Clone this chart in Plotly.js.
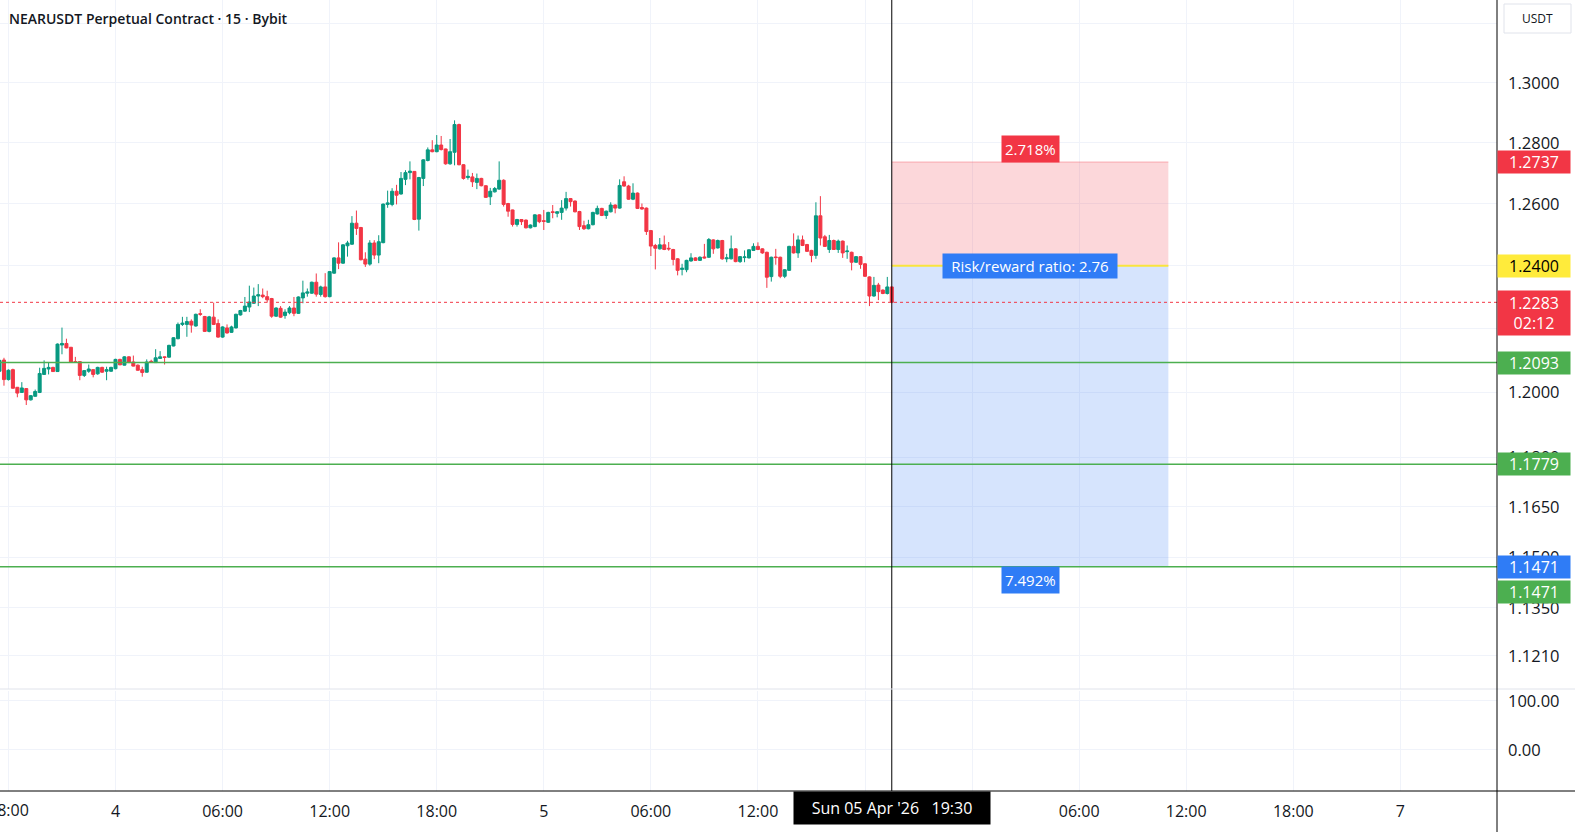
<!DOCTYPE html>
<html>
<head>
<meta charset="utf-8">
<script src="https://cdn.plot.ly/plotly-3.0.1.min.js"></script>
<style>html,body{margin:0;padding:0;background:#fff;}#chart{width:1575px;height:832px;}</style>
</head>
<body>
<div id="chart"></div>
<script>
// ---- DATA (NEARUSDT 15m, Bybit) ----
const startTime = '2026-04-03T17:30:00Z';
const barMinutes = 15;
const open = [
1.2066,1.2101,1.2040,1.2071,1.2016,1.2000,1.2012,1.1977,1.1988,1.2000,
1.2056,1.2073,1.2078,1.2065,1.2148,1.2153,1.2141,1.2096,1.2096,1.2053,
1.2066,1.2071,1.2058,1.2078,1.2066,1.2066,1.2074,1.2103,1.2085,1.2111,
1.2095,1.2085,1.2071,1.2063,1.2097,1.2093,1.2106,1.2111,1.2110,1.2145,
1.2168,1.2213,1.2213,1.2223,1.2208,1.2247,1.2238,1.2191,1.2236,1.2216,
1.2173,1.2202,1.2188,1.2202,1.2243,1.2255,1.2268,1.2280,1.2303,1.2306,
1.2301,1.2295,1.2239,1.2264,1.2241,1.2250,1.2265,1.2248,1.2297,1.2312,
1.2312,1.2347,1.2308,1.2332,1.2301,1.2376,1.2425,1.2408,1.2464,1.2469,
1.2537,1.2523,1.2421,1.2405,1.2473,1.2434,1.2474,1.2598,1.2598,1.2641,
1.2632,1.2680,1.2702,1.2706,1.2550,1.2683,1.2742,1.2777,1.2771,1.2793,
1.2780,1.2731,1.2769,1.2861,1.2728,1.2686,1.2688,1.2670,1.2683,1.2659,
1.2623,1.2639,1.2648,1.2677,1.2601,1.2580,1.2533,1.2549,1.2547,1.2522,
1.2526,1.2564,1.2545,1.2540,1.2574,1.2569,1.2572,1.2586,1.2617,1.2609,
1.2575,1.2529,1.2519,1.2532,1.2567,1.2585,1.2562,1.2574,1.2596,1.2586,
1.2672,1.2658,1.2615,1.2635,1.2588,1.2586,1.2513,1.2465,1.2454,1.2467,
1.2456,1.2452,1.2422,1.2388,1.2387,1.2415,1.2425,1.2417,1.2428,1.2427,
1.2483,1.2457,1.2481,1.2422,1.2422,1.2454,1.2413,1.2426,1.2425,1.2449,
1.2462,1.2454,1.2443,1.2365,1.2428,1.2427,1.2366,1.2385,1.2462,1.2441,
1.2483,1.2468,1.2449,1.2433,1.2561,1.2493,1.2452,1.2481,1.2452,1.2479,
1.2445,1.2443,1.2411,1.2429,1.2406,1.2364,1.2303,1.2338,1.2322,1.2311,
1.2332];
const high = [
1.2102,1.2108,1.2072,1.2074,1.2017,1.2032,1.2013,1.1992,1.2009,1.2077,
1.2100,1.2093,1.2080,1.2153,1.2203,1.2168,1.2142,1.2111,1.2097,1.2069,
1.2087,1.2072,1.2080,1.2080,1.2080,1.2080,1.2105,1.2105,1.2113,1.2113,
1.2115,1.2087,1.2080,1.2103,1.2102,1.2135,1.2129,1.2112,1.2149,1.2173,
1.2219,1.2237,1.2237,1.2229,1.2247,1.2261,1.2240,1.2240,1.2282,1.2229,
1.2207,1.2213,1.2209,1.2247,1.2259,1.2300,1.2336,1.2330,1.2341,1.2327,
1.2320,1.2297,1.2267,1.2271,1.2261,1.2271,1.2300,1.2302,1.2352,1.2327,
1.2349,1.2375,1.2336,1.2376,1.2383,1.2427,1.2475,1.2469,1.2480,1.2560,
1.2578,1.2525,1.2443,1.2482,1.2482,1.2498,1.2601,1.2643,1.2651,1.2662,
1.2704,1.2710,1.2739,1.2707,1.2688,1.2746,1.2785,1.2809,1.2826,1.2823,
1.2781,1.2813,1.2875,1.2864,1.2730,1.2712,1.2701,1.2699,1.2685,1.2661,
1.2652,1.2655,1.2739,1.2680,1.2603,1.2581,1.2551,1.2550,1.2549,1.2533,
1.2566,1.2566,1.2580,1.2574,1.2596,1.2576,1.2612,1.2639,1.2619,1.2611,
1.2577,1.2545,1.2548,1.2574,1.2594,1.2587,1.2578,1.2605,1.2598,1.2680,
1.2690,1.2662,1.2667,1.2637,1.2601,1.2588,1.2515,1.2470,1.2489,1.2497,
1.2476,1.2454,1.2424,1.2406,1.2419,1.2440,1.2427,1.2430,1.2470,1.2489,
1.2485,1.2484,1.2483,1.2438,1.2497,1.2456,1.2431,1.2449,1.2453,1.2472,
1.2475,1.2456,1.2445,1.2429,1.2454,1.2429,1.2389,1.2464,1.2504,1.2497,
1.2497,1.2470,1.2451,1.2605,1.2625,1.2499,1.2499,1.2484,1.2484,1.2481,
1.2465,1.2445,1.2431,1.2431,1.2408,1.2366,1.2364,1.2345,1.2324,1.2364,
1.2333];
const low = [
1.2064,1.2021,1.2037,1.2012,1.1985,1.1999,1.1961,1.1975,1.1987,1.1998,
1.2055,1.2056,1.2064,1.2064,1.2119,1.2138,1.2094,1.2093,1.2038,1.2048,
1.2061,1.2047,1.2055,1.2061,1.2038,1.2064,1.2072,1.2085,1.2084,1.2092,
1.2081,1.2068,1.2049,1.2062,1.2093,1.2092,1.2105,1.2087,1.2108,1.2144,
1.2166,1.2208,1.2174,1.2187,1.2206,1.2240,1.2189,1.2188,1.2211,1.2171,
1.2171,1.2184,1.2186,1.2200,1.2241,1.2253,1.2252,1.2278,1.2271,1.2296,
1.2282,1.2234,1.2237,1.2234,1.2231,1.2245,1.2239,1.2246,1.2280,1.2301,
1.2310,1.2301,1.2301,1.2298,1.2299,1.2374,1.2389,1.2406,1.2429,1.2467,
1.2499,1.2417,1.2396,1.2400,1.2421,1.2408,1.2472,1.2587,1.2592,1.2598,
1.2630,1.2661,1.2680,1.2547,1.2513,1.2658,1.2739,1.2769,1.2769,1.2775,
1.2728,1.2728,1.2726,1.2726,1.2679,1.2679,1.2655,1.2648,1.2657,1.2619,
1.2596,1.2637,1.2646,1.2591,1.2558,1.2526,1.2526,1.2531,1.2520,1.2520,
1.2524,1.2537,1.2515,1.2538,1.2553,1.2556,1.2548,1.2578,1.2591,1.2572,
1.2515,1.2515,1.2517,1.2530,1.2565,1.2560,1.2551,1.2572,1.2569,1.2584,
1.2656,1.2613,1.2612,1.2583,1.2581,1.2499,1.2431,1.2388,1.2452,1.2450,
1.2448,1.2401,1.2369,1.2369,1.2379,1.2413,1.2415,1.2415,1.2423,1.2425,
1.2438,1.2455,1.2419,1.2411,1.2420,1.2411,1.2409,1.2411,1.2423,1.2447,
1.2450,1.2438,1.2329,1.2349,1.2403,1.2360,1.2360,1.2383,1.2439,1.2425,
1.2463,1.2444,1.2411,1.2422,1.2465,1.2460,1.2441,1.2460,1.2441,1.2425,
1.2422,1.2385,1.2409,1.2390,1.2364,1.2271,1.2301,1.2290,1.2309,1.2308,
1.2280];
const close = [
1.2100,1.2040,1.2069,1.2013,1.1998,1.2014,1.1977,1.1990,1.2003,1.2059,
1.2075,1.2078,1.2065,1.2151,1.2153,1.2139,1.2095,1.2094,1.2053,1.2068,
1.2073,1.2056,1.2078,1.2063,1.2071,1.2078,1.2103,1.2086,1.2111,1.2093,
1.2082,1.2069,1.2062,1.2095,1.2095,1.2108,1.2111,1.2109,1.2147,1.2171,
1.2213,1.2217,1.2222,1.2211,1.2245,1.2245,1.2191,1.2237,1.2213,1.2173,
1.2205,1.2186,1.2205,1.2245,1.2257,1.2271,1.2284,1.2303,1.2307,1.2301,
1.2291,1.2239,1.2265,1.2236,1.2252,1.2265,1.2248,1.2300,1.2313,1.2316,
1.2347,1.2309,1.2332,1.2301,1.2381,1.2425,1.2408,1.2467,1.2473,1.2537,
1.2520,1.2419,1.2405,1.2473,1.2434,1.2477,1.2599,1.2603,1.2641,1.2628,
1.2683,1.2702,1.2707,1.2549,1.2686,1.2744,1.2777,1.2771,1.2793,1.2778,
1.2731,1.2771,1.2861,1.2728,1.2683,1.2690,1.2672,1.2683,1.2659,1.2621,
1.2641,1.2650,1.2677,1.2598,1.2576,1.2533,1.2549,1.2542,1.2522,1.2531,
1.2564,1.2542,1.2543,1.2572,1.2572,1.2574,1.2586,1.2617,1.2607,1.2574,
1.2526,1.2519,1.2532,1.2572,1.2585,1.2562,1.2576,1.2596,1.2586,1.2660,
1.2658,1.2615,1.2635,1.2585,1.2583,1.2510,1.2463,1.2456,1.2467,1.2452,
1.2454,1.2420,1.2385,1.2392,1.2417,1.2425,1.2417,1.2427,1.2425,1.2484,
1.2454,1.2481,1.2422,1.2425,1.2454,1.2413,1.2429,1.2428,1.2451,1.2462,
1.2452,1.2441,1.2363,1.2427,1.2426,1.2366,1.2387,1.2462,1.2441,1.2483,
1.2465,1.2446,1.2433,1.2561,1.2489,1.2462,1.2481,1.2452,1.2479,1.2441,
1.2447,1.2411,1.2429,1.2404,1.2366,1.2303,1.2337,1.2317,1.2311,1.2332,
1.2283];

// Horizontal levels & position tool
const supportLevels = [1.2093, 1.1779, 1.1471];
const lastPrice = 1.2283;
const countdown = '02:12';
const entryPrice = 1.2400;
const stopPrice = 1.2737;
const targetPrice = 1.1471;
const positionStart = '2026-04-05 19:30';
const positionEnd = '2026-04-06 11:00';
const stopPct = '2.718%';
const targetPct = '7.492%';
const rrText = 'Risk/reward ratio: 2.76';
const crosshairTime = '2026-04-05 19:30';
const crosshairLabel = "Sun 05 Apr '26\u00a0\u00a0\u00a019:30";
const titleText = 'NEARUSDT Perpetual Contract · 15 · Bybit';

// Axis ticks
const priceTicks = [1.121, 1.135, 1.15, 1.165, 1.18, 1.20, 1.22, 1.24, 1.26, 1.28, 1.30, 1.32];
const timeTicks = ['2026-04-03 18:00','2026-04-04 00:00','2026-04-04 06:00','2026-04-04 12:00','2026-04-04 18:00',
  '2026-04-05 00:00','2026-04-05 06:00','2026-04-05 12:00','2026-04-05 18:00','2026-04-06 00:00',
  '2026-04-06 06:00','2026-04-06 12:00','2026-04-06 18:00','2026-04-07 00:00'];
const timeTickText = ['18:00','4','06:00','12:00','18:00','5','06:00','12:00','18:00','6','06:00','12:00','18:00','7'];
const indTicks = [0, 100];
const indTickText = ['0.00', '100.00'];

// ---- BUILD ----
const t0 = Date.parse(startTime);
const times = open.map((_, i) => new Date(t0 + i * barMinutes * 60000).toISOString().slice(0, 16).replace('T', ' '));

const FONT = 'Open Sans, Roboto, sans-serif';
const TXT = '#131722';
const GREEN = '#089981', RED = '#f23645', LVL = '#4caf50', BLUE = '#2f7cf6';
const L = v => Math.log10(v);

const PLOT_W = 1497, PLOT_H = 791;

const traces = [
  {
    type: 'candlestick', x: times, open: open, high: high, low: low, close: close,
    xaxis: 'x', yaxis: 'y',
    increasing: {line: {color: GREEN, width: 1}, fillcolor: GREEN},
    decreasing: {line: {color: RED, width: 1}, fillcolor: RED},
    whiskerwidth: 0, hoverinfo: 'skip', showlegend: false
  },
  {type: 'scatter', x: [], y: [], xaxis: 'x', yaxis: 'y2', showlegend: false, hoverinfo: 'skip'}
];

// Shapes on the log price axis take data values here
const shapes = [];
shapes.push({type: 'rect', xref: 'x', yref: 'y', x0: positionStart, x1: positionEnd, y0: entryPrice, y1: stopPrice,
  fillcolor: 'rgba(242,54,69,0.2)', line: {width: 0}, layer: 'between'});
shapes.push({type: 'rect', xref: 'x', yref: 'y', x0: positionStart, x1: positionEnd, y0: targetPrice, y1: entryPrice,
  fillcolor: 'rgba(49,121,245,0.2)', line: {width: 0}, layer: 'between'});
shapes.push({type: 'line', xref: 'x', yref: 'y', x0: positionStart, x1: positionEnd, y0: stopPrice, y1: stopPrice,
  line: {color: 'rgba(242,54,69,0.35)', width: 1}});
shapes.push({type: 'line', xref: 'x', yref: 'y', x0: positionStart, x1: positionEnd, y0: entryPrice, y1: entryPrice,
  line: {color: '#f9e43c', width: 2}});
supportLevels.forEach(v => shapes.push({type: 'line', xref: 'paper', yref: 'y', x0: 0, x1: 1, y0: v, y1: v,
  line: {color: LVL, width: 1.5}}));
shapes.push({type: 'line', xref: 'paper', yref: 'y', x0: 0, x1: 1, y0: lastPrice, y1: lastPrice,
  line: {color: RED, width: 1, dash: 'dot'}});
// crosshair
shapes.push({type: 'line', xref: 'x', yref: 'paper', x0: crosshairTime, x1: crosshairTime, y0: 0, y1: 1,
  line: {color: '#000', width: 1}});
// pane separator
shapes.push({type: 'line', xref: 'paper', yref: 'paper', x0: 0, x1: 1575 / PLOT_W, y0: 102 / PLOT_H, y1: 102 / PLOT_H,
  line: {color: '#e0e3eb', width: 1}});
// price axis line & time axis line
shapes.push({type: 'line', xref: 'paper', yref: 'paper', x0: 1, x1: 1, y0: -41 / PLOT_H, y1: 1, line: {color: '#000', width: 1}});
shapes.push({type: 'line', xref: 'paper', yref: 'paper', x0: 0, x1: 1575 / PLOT_W, y0: 0, y1: 0, line: {color: '#000', width: 1}});
// USDT button
shapes.push({type: 'rect', xref: 'paper', yref: 'paper', x0: 1504 / PLOT_W, x1: 1571 / PLOT_W,
  y0: (PLOT_H - 33) / PLOT_H, y1: (PLOT_H - 4) / PLOT_H, line: {color: '#e0e3eb', width: 1}, fillcolor: '#fff'});

const annotations = [];
annotations.push({xref: 'paper', yref: 'paper', x: 0, y: 1, xanchor: 'left', yanchor: 'middle', xshift: 7, yshift: -18,
  text: titleText, showarrow: false, font: {family: FONT, size: 14, color: TXT, weight: 600}});
annotations.push({xref: 'paper', yref: 'paper', x: 1537.5 / PLOT_W, y: 1, xanchor: 'center', yanchor: 'middle', yshift: -18.5,
  text: 'USDT', showarrow: false, font: {family: FONT, size: 12, color: TXT}});
// leftmost time label, partly outside the picture as in the reference
annotations.push({xref: 'x', x: timeTicks[0], yref: 'paper', y: -19 / PLOT_H, xanchor: 'center', yanchor: 'middle',
  text: timeTickText[0], showarrow: false, font: {family: FONT, size: 16, color: TXT}});

function priceLabel(v, bg, fg, yshift, text, h) {
  annotations.push({xref: 'paper', x: 1, xanchor: 'left', yref: 'y', y: L(v), yanchor: 'middle', yshift: yshift || 0,
    text: text || v.toFixed(4), showarrow: false, bgcolor: bg, borderpad: 0, width: 72, height: h || 22,
    font: {family: FONT, size: 16, color: fg}, align: 'center'});
}
priceLabel(stopPrice, RED, '#fff');
priceLabel(entryPrice, '#ffeb3b', '#000');
priceLabel(lastPrice, RED, '#fff', -11, lastPrice.toFixed(4) + '<br>' + countdown, 44);
priceLabel(supportLevels[0], LVL, '#fff');
priceLabel(supportLevels[1], LVL, '#fff');
priceLabel(supportLevels[2], LVL, '#fff', -25);
priceLabel(targetPrice, BLUE, '#fff');

const mid = new Date((Date.parse(positionStart.replace(' ', 'T') + ':00Z') + Date.parse(positionEnd.replace(' ', 'T') + ':00Z')) / 2)
  .toISOString().slice(0, 16).replace('T', ' ');
function boxLabel(v, bg, text, yshift, w, h) {
  const a = {xref: 'x', x: mid, yref: 'y', y: L(v), xanchor: 'center', yanchor: 'middle', yshift: yshift,
    text: text, showarrow: false, bgcolor: bg, borderpad: 3, font: {family: FONT, size: 15, color: '#fff'}};
  if (w) { a.width = w; a.height = h; a.borderpad = 0; }
  annotations.push(a);
}
boxLabel(stopPrice, RED, stopPct, 13);
boxLabel(entryPrice, BLUE, rrText, 0, 174, 24);
boxLabel(targetPrice, BLUE, targetPct, -13);

annotations.push({xref: 'x', x: crosshairTime, yref: 'paper', y: -17 / PLOT_H, xanchor: 'center', yanchor: 'middle',
  text: crosshairLabel, showarrow: false, bgcolor: '#000', width: 194, height: 30, borderpad: 1,
  font: {family: FONT, size: 16, color: '#fff'}});

const xStart = '2026-04-03 17:31:39';
const xEnd = '2026-04-07 05:24:57';

const layout = {
  width: 1575, height: 832,
  margin: {l: 0, r: 78, t: 0, b: 41, pad: 0},
  paper_bgcolor: '#fff', plot_bgcolor: '#fff',
  showlegend: false, hovermode: false, dragmode: false,
  boxgap: 0.1, boxgroupgap: 0.25,
  xaxis: {type: 'date', range: [xStart, xEnd], anchor: 'y2', tickmode: 'array', tickvals: timeTicks, ticktext: timeTickText,
    showgrid: true, gridcolor: '#f0f3fa', gridwidth: 1, zeroline: false, showline: false, ticks: '',
    tickfont: {family: FONT, size: 16, color: TXT}, ticklabelstandoff: 9, rangeslider: {visible: false}, fixedrange: true},
  yaxis: {type: 'log', domain: [102 / PLOT_H, 1], range: [L(1.1114), L(1.3282)], side: 'right', anchor: 'x',
    tickmode: 'array', tickvals: priceTicks, ticktext: priceTicks.map(v => v.toFixed(4)),
    showgrid: true, gridcolor: '#f0f3fa', zeroline: false, showline: false, ticks: '',
    tickfont: {family: FONT, size: 16.5, color: TXT}, ticklabelstandoff: 10, fixedrange: true},
  yaxis2: {domain: [0, 100 / PLOT_H], range: [-84, 120], side: 'right', anchor: 'x',
    tickmode: 'array', tickvals: indTicks, ticktext: indTickText,
    showgrid: true, gridcolor: '#f0f3fa', zeroline: false, showline: false, ticks: '',
    tickfont: {family: FONT, size: 16.5, color: TXT}, ticklabelstandoff: 10, fixedrange: true},
  shapes: shapes,
  annotations: annotations
};

Plotly.newPlot('chart', traces, layout, {displayModeBar: false, staticPlot: true});
</script>
</body>
</html>
